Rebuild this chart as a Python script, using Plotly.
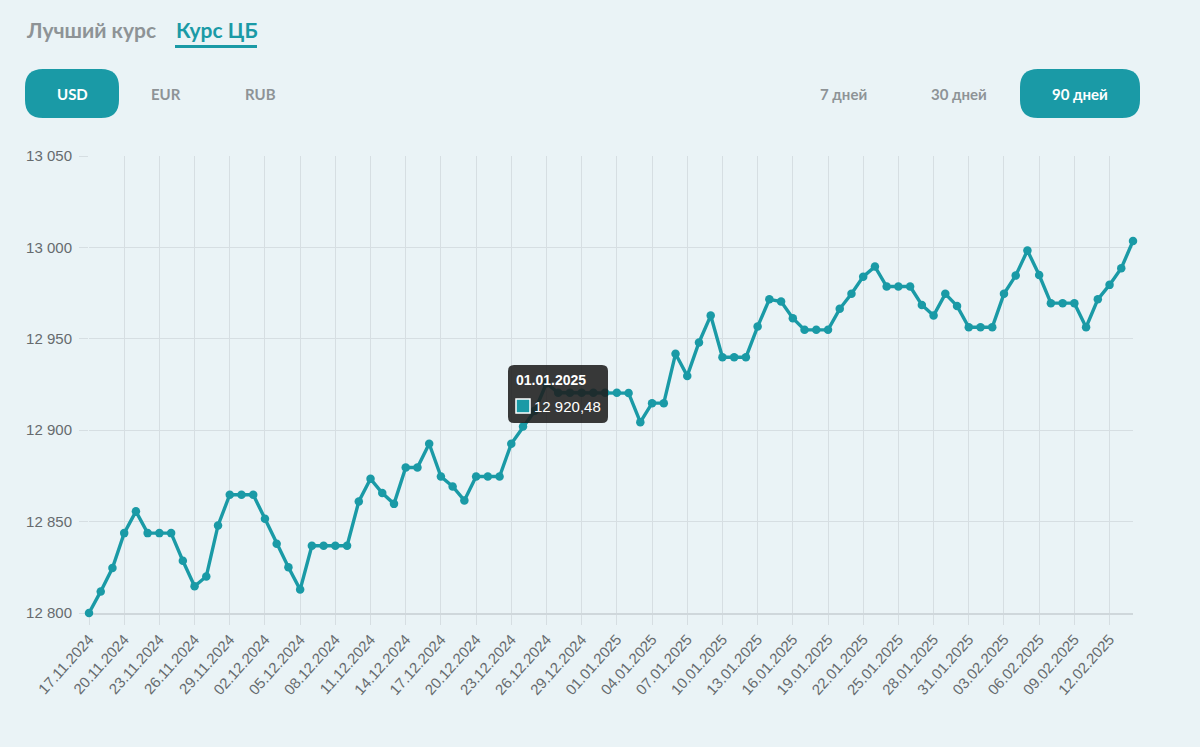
import plotly.graph_objects as go
import pandas as pd

# ---------------- data ----------------
start_date = "2024-11-17"
rates = [
    12800.0, 12811.8, 12824.6, 12843.7, 12855.6, 12843.7, 12843.7, 12843.7, 12828.6, 12814.6,
    12820.0, 12847.9, 12864.7, 12864.7, 12864.7, 12851.6, 12837.9, 12825.0, 12812.8, 12836.8,
    12836.8, 12836.8, 12836.8, 12861.0, 12873.4, 12865.6, 12859.7, 12879.6, 12879.6, 12892.6,
    12874.7, 12869.2, 12861.6, 12874.7, 12874.7, 12874.7, 12892.6, 12902.0, 12910.6, 12925.7,
    12920.5, 12920.5, 12920.5, 12920.5, 12920.5, 12920.48, 12920.3, 12904.4, 12914.8, 12914.8,
    12941.8, 12929.7, 12948.0, 12962.7, 12939.9, 12939.9, 12939.9, 12956.7, 12971.6, 12970.4,
    12961.3, 12954.9, 12954.9, 12954.9, 12966.4, 12974.6, 12984.0, 12989.5, 12978.6, 12978.6,
    12978.6, 12968.5, 12962.7, 12974.6, 12968.0, 12956.3, 12956.3, 12956.3, 12974.6, 12984.6,
    12998.3, 12984.9, 12969.5, 12969.5, 12969.5, 12956.3, 12971.6, 12979.5, 12988.6, 13003.5,
]
tab_labels = ["Лучший курс", "Курс ЦБ"]
currency_labels = ["USD", "EUR", "RUB"]
period_labels = ["7 дней", "30 дней", "90 дней"]
tooltip_index = 45
y_min, y_max, y_step = 12800, 13050, 50

dates = pd.date_range(start_date, periods=len(rates), freq="D")

# ---------------- style ----------------
W, H = 1200, 747
ML, MR, MT, MB = 89, 67, 156, 134
PW, PH = W - ML - MR, H - MT - MB
TEAL = "#1a9aa6"
BG = "#eaf3f6"
GRID = "#d6dee2"
TXT = "#666b6e"
GRAYTXT = "#8e9396"
HEAD_FONT = "Lato, Noto Sans, sans-serif"
AX_FONT = "Liberation Sans, Arial, sans-serif"


def px(x):
    return (x - ML) / PW


def py(y):
    return (H - MB - y) / PH


def rrect(x0, y0, x1, y1, r):
    rx = r / PW
    ry = r / PH
    X0, X1 = px(x0), px(x1)
    Y0, Y1 = py(y0), py(y1)  # Y0 top (larger), Y1 bottom
    return (f"M {X0+rx},{Y0} L {X1-rx},{Y0} Q {X1},{Y0} {X1},{Y0-ry} "
            f"L {X1},{Y1+ry} Q {X1},{Y1} {X1-rx},{Y1} L {X0+rx},{Y1} "
            f"Q {X0},{Y1} {X0},{Y1+ry} L {X0},{Y0-ry} Q {X0},{Y0} {X0+rx},{Y0} Z")


fig = go.Figure()
fig.add_trace(go.Scatter(
    x=dates, y=rates, mode="lines+markers",
    line=dict(color=TEAL, width=3.4),
    marker=dict(color=TEAL, size=8.5),
    cliponaxis=False, hoverinfo="skip", showlegend=False,
))

shapes = []
annotations = []

# tabs
annotations.append(dict(x=px(24), y=py(30), xref="paper", yref="paper", text=f"<b>{tab_labels[0]}</b>",
                        showarrow=False, xanchor="left", yanchor="middle",
                        font=dict(family=HEAD_FONT, size=21, color=GRAYTXT)))
annotations.append(dict(x=px(174), y=py(30), xref="paper", yref="paper", text=f"<b>{tab_labels[1]}</b>",
                        showarrow=False, xanchor="left", yanchor="middle",
                        font=dict(family=HEAD_FONT, size=21, color=TEAL)))
shapes.append(dict(type="line", xref="paper", yref="paper", x0=px(175), x1=px(257), y0=py(46.5), y1=py(46.5),
                   line=dict(color=TEAL, width=3)))

# currency buttons
shapes.append(dict(type="path", xref="paper", yref="paper", path=rrect(25, 69, 119, 118, 18),
                   fillcolor=TEAL, line=dict(width=0)))
for lab, cx in zip(currency_labels, [72, 166, 260]):
    active = lab == "USD"
    annotations.append(dict(x=px(cx), y=py(94), xref="paper", yref="paper", text=f"<b>{lab}</b>",
                            showarrow=False, xanchor="center", yanchor="middle",
                            font=dict(family=HEAD_FONT, size=15, color="white" if active else GRAYTXT)))

# period buttons
shapes.append(dict(type="path", xref="paper", yref="paper", path=rrect(1020, 69, 1140, 118, 18),
                   fillcolor=TEAL, line=dict(width=0)))
for lab, cx in zip(period_labels, [843, 959, 1080]):
    active = lab == "90 дней"
    annotations.append(dict(x=px(cx), y=py(94), xref="paper", yref="paper", text=f"<b>{lab}</b>",
                            showarrow=False, xanchor="center", yanchor="middle",
                            font=dict(family=HEAD_FONT, size=15, color="white" if active else GRAYTXT)))

# tooltip
tip_val = rates[tooltip_index]
tip_date = dates[tooltip_index].strftime("%d.%m.%Y")
tip_txt = f"{tip_val:,.2f}".replace(",", " ").replace(".", ",")
shapes.append(dict(type="path", xref="paper", yref="paper", path=rrect(508, 365, 608, 423, 6),
                   fillcolor="rgba(30,30,30,0.88)", line=dict(width=0)))
shapes.append(dict(type="rect", xref="paper", yref="paper", x0=px(516), x1=px(530), y0=py(413), y1=py(399),
                   fillcolor=TEAL, line=dict(color="white", width=1.5)))
annotations.append(dict(x=px(514), y=py(380), xref="paper", yref="paper", text=f"<b>{tip_date}</b>",
                        showarrow=False, xanchor="left", yanchor="middle",
                        font=dict(family=AX_FONT, size=14, color="white")))
annotations.append(dict(x=px(532), y=py(406), xref="paper", yref="paper", text=tip_txt,
                        showarrow=False, xanchor="left", yanchor="middle",
                        font=dict(family=AX_FONT, size=15, color="white")))

fig.update_layout(
    width=W, height=H,
    margin=dict(l=ML, r=MR, t=MT, b=MB, pad=0),
    paper_bgcolor=BG, plot_bgcolor=BG,
    separators=", ",
    shapes=shapes, annotations=annotations,
    xaxis=dict(
        type="date", range=[dates[0], dates[-1]],
        tick0=dates[0], dtick=3 * 86400000, tickformat="%d.%m.%Y",
        tickangle=-48, showgrid=True, gridcolor=GRID, gridwidth=1,
        ticks="outside", ticklen=10, tickcolor=GRID,
        tickfont=dict(family=AX_FONT, size=15, color=TXT),
        showline=True, linecolor="#cfd7db", linewidth=1.5, zeroline=False,
        layer="below traces",
    ),
    yaxis=dict(
        range=[y_min, y_max], dtick=y_step, tick0=y_min, tickformat=",d",
        showgrid=True, gridcolor=GRID, gridwidth=1,
        ticks="outside", ticklen=9, tickcolor=GRID, ticklabelstandoff=4,
        tickfont=dict(family=AX_FONT, size=15, color=TXT),
        showline=False, zeroline=False,
        layer="below traces",
    ),
)

fig.write_html(
    "out.html",
    config={"displayModeBar": False},
    post_script="document.body.style.margin='0px';document.body.style.background='%s';" % BG,
)
